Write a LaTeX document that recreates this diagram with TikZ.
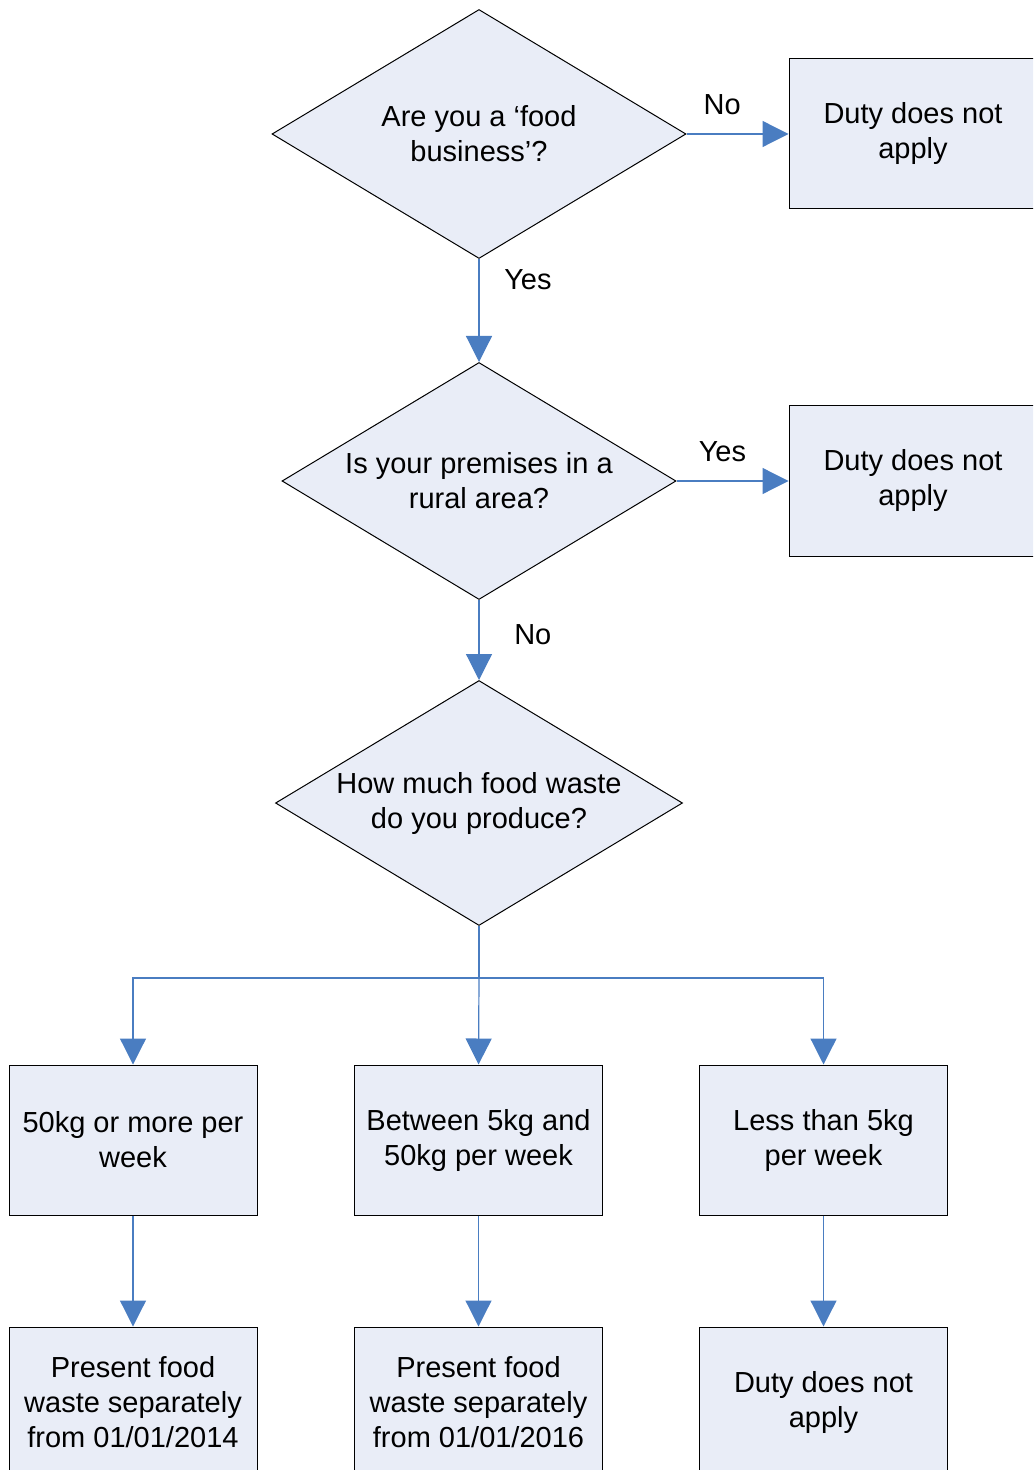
\documentclass[tikz,border=0pt]{standalone}
\usepackage{fontspec}
\setmainfont{Liberation Sans}
\usetikzlibrary{shapes.geometric,arrows.meta}
\definecolor{boxfill}{RGB}{233,237,247}
\definecolor{linkblue}{RGB}{74,125,193}

\begin{document}
\begin{tikzpicture}[x=0.5pt,y=-0.5pt,
		every node/.style={font=\fontsize{14.5pt}{17.5pt}\selectfont, align=center},
		box/.style={draw=black, line width=0.5pt, fill=boxfill, minimum width=124pt, minimum height=75pt, inner sep=0pt},
		question/.style={diamond, shape aspect=1.66, draw=black, line width=0.5pt, fill=boxfill, inner sep=0pt},
		link/.style={draw=linkblue, line width=0.6pt, -{Triangle[width=13pt,length=13pt]}}]
		\useasboundingbox (0,0) rectangle (1033,1470);
		\clip (0,0) rectangle (1033,1470);
		
		%Preguntas
		\node[question, minimum width=207pt, minimum height=124.5pt] (q1) at (479,134) {Are you a ‘food\\business’?};
		\node[question, minimum width=197pt, minimum height=118.5pt] (q2) at (479,481) {Is your premises in a\\rural area?};
		\node[question, minimum width=203.5pt, minimum height=122.5pt] (q3) at (479,803) {How much food waste\\do you produce?};
		
		%Cajas
		\node[box] (duty1) at (913,134) {Duty does not\\apply};
		\node[box] (duty2) at (913,481) {Duty does not\\apply};
		\node[box] (more) at (133,1140) {50kg or more per\\week};
		\node[box] (between) at (478.5,1140) {Between 5kg and\\50kg per week};
		\node[box] (less) at (823.5,1140) {Less than 5kg\\per week};
		\node[box] (from14) at (133,1402) {Present food\\waste separately\\from 01/01/2014};
		\node[box] (from16) at (478.5,1402) {Present food\\waste separately\\from 01/01/2016};
		\node[box] (duty3) at (823.5,1402) {Duty does not\\apply};
		
		%Flechas
		\draw[link] (q1.east) -- node[above=6pt, pos=0.35]{No} (duty1.west);
		\draw[link] (q1.south) -- node[right=9pt, pos=0.2]{Yes} (q2.north);
		\draw[link] (q2.east) -- node[above=6pt, pos=0.41]{Yes} (duty2.west);
		\draw[link] (q2.south) -- node[right=14pt, pos=0.43]{No} (q3.north);
		
		\coordinate (split) at (479,978);
		\draw[draw=linkblue, line width=0.6pt] (q3.south) -- (split);
		\draw[link] (split) -| (more.north);
		\draw[link] (split) -- (between.north);
		\draw[link] (split) -| (less.north);
		
		\draw[link] (more.south) -- (from14.north);
		\draw[link] (between.south) -- (from16.north);
		\draw[link] (less.south) -- (duty3.north);
	\end{tikzpicture}
\end{document}
